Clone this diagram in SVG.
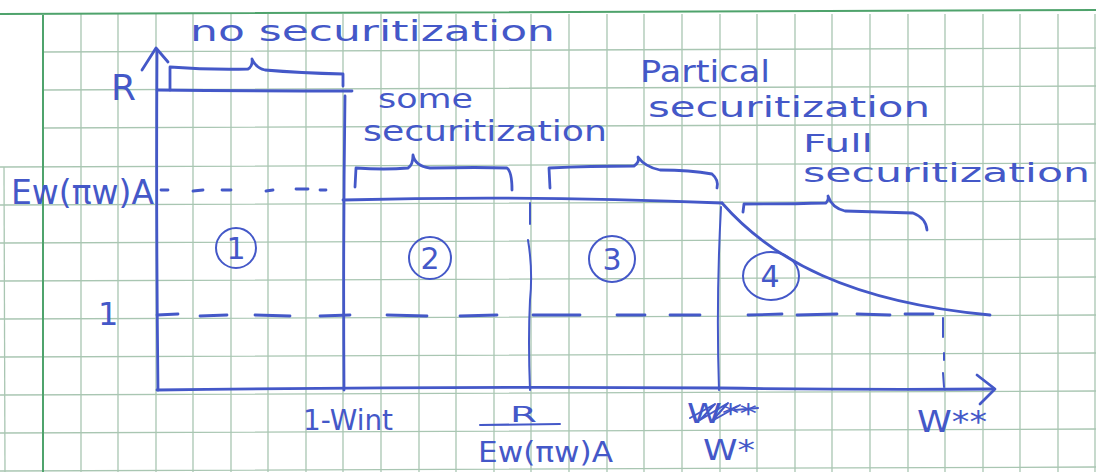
<svg xmlns="http://www.w3.org/2000/svg" width="1096" height="472" viewBox="0 0 1096 472">
  <style>
    .grid { stroke: #a9c6b2; stroke-width: 1.3; fill: none; }
    .margin { stroke: #4fa36c; stroke-width: 2; fill: none; }
    .ink { stroke: #4458c8; stroke-width: 2.8; fill: none; stroke-linecap: round; stroke-linejoin: round; }
    .thin { stroke-width: 2; }
    .txt { fill: #4458c8; font-family: "DejaVu Sans", "Liberation Sans", sans-serif; }
  </style>

  <rect width="1096" height="472" fill="#ffffff"/>

  <!-- squared paper -->
  <g id="paper-grid">
    <g class="grid">
      <path d="M4,167 L5,472"/>
      <path d="M81,14 V472 M118,14 V472 M156,14 V472 M193,14 V472 M231,14 V472 M268,14 V472 M306,14 V472 M343,14 V472 M381,14 V472 M419,14 V472 M456,14 V472 M494,14 V472 M531,14 V472 M569,14 V472 M607,14 V472 M644,14 V472 M682,14 V472 M720,14 V472 M757,14 V472 M795,14 V472 M832,14 V472 M870,14 V472 M908,14 V472 M945,14 V472 M983,14 V472 M1020,14 V472 M1058,14 V472 M1095,14 V472"/>
      <path d="M43,52 L1096,48 M43,90 L1096,86 M43,128 L1096,124 M0,167 L1096,163 M0,205 L1096,201 M0,243 L1096,239 M0,281 L1096,277 M0,319 L1096,315 M0,357 L1096,353 M0,395 L1096,391 M0,433 L1096,429 M0,471 L1096,467"/>
    </g>
    <path class="margin" d="M0,14 L1096,10 M43,14 V472"/>
  </g>

  <!-- axes -->
  <g id="axes" class="ink">
    <path d="M157,50 Q156,220 158,390"/>
    <path d="M142,70 L156,48 L168,62"/>
    <path d="M157,390 Q450,386 720,388 Q860,390 994,389"/>
    <path d="M977,375 L995,389 L980,404"/>
    <path d="M157,315 L178,314"/>
  </g>

  <!-- return schedule and guide lines -->
  <g id="connectors" class="ink">
    <path d="M157,90 Q250,91 352,91"/>
    <path d="M345,96 Q343,240 344,390"/>
    <path d="M343,200 Q530,195 722,203"/>
    <path d="M722,203 C772,260 850,302 990,315"/>
    <path d="M161,190 L168,190 M193,191 L203,190 M222,190 L231,190 M266,191 L273,190 M296,189 L308,189 M320,190 L326,190"/>
    <path d="M200,316 L227,315 M255,315 L290,316 M320,316 L350,315 M387,315 L427,316 M460,316 L497,315 M533,315 L580,315 M617,315 L645,315 M670,315 L700,315 M748,315 L782,314 M797,315 L837,314 M857,314 L890,315 M905,314 L933,314"/>
    <path class="thin" d="M530,203 L530,224 M528,240 Q533,270 530,300 Q528,340 530,390"/>
    <path class="thin" d="M721,207 Q716,300 719,390"/>
    <path class="thin" d="M943,318 L943,337 M944,353 L944,360 M943,373 L944,387"/>
  </g>

  <!-- range braces -->
  <g id="braces" class="ink">
    <path d="M170,90 L170,67 Q210,70 248,69 Q253,66 252,59 Q256,68 265,70 Q300,73 343,74 L343,86"/>
    <path d="M355,187 L356,168 Q385,170 408,168 Q413,165 413,155 Q415,166 430,168 Q480,167 507,168 Q512,172 512,190"/>
    <path d="M550,188 L549,168 Q590,166 634,166 Q640,162 638,157 Q645,167 660,170 Q690,170 712,174 Q719,180 717,188"/>
    <path d="M743,212 L744,204 Q790,204 826,203 Q829,200 828,196 Q832,208 845,211 Q880,212 913,213 Q926,218 927,230"/>
  </g>

  <!-- numbered regions -->
  <g id="region-1">
    <circle class="ink thin" cx="236" cy="248" r="20"/>
    <text class="txt" x="236" y="259" font-size="30" text-anchor="middle">1</text>
  </g>
  <g id="region-2">
    <circle class="ink thin" cx="430" cy="258" r="21"/>
    <text class="txt" x="430" y="269" font-size="30" text-anchor="middle">2</text>
  </g>
  <g id="region-3">
    <circle class="ink thin" cx="612" cy="259" r="23"/>
    <text class="txt" x="612" y="270" font-size="30" text-anchor="middle">3</text>
  </g>
  <g id="region-4">
    <ellipse class="ink thin" cx="771" cy="276" rx="28" ry="24"/>
    <text class="txt" x="770" y="287" font-size="30" text-anchor="middle">4</text>
  </g>

  <!-- labels -->
  <g id="labels">
    <text class="txt" x="190" y="41" font-size="28" textLength="365" lengthAdjust="spacingAndGlyphs">no securitization</text>
    <text class="txt" x="111" y="100" font-size="36" textLength="25" lengthAdjust="spacingAndGlyphs">R</text>
    <text class="txt" x="378" y="108" font-size="26" textLength="95" lengthAdjust="spacingAndGlyphs">some</text>
    <text class="txt" x="363" y="141" font-size="28" textLength="244" lengthAdjust="spacingAndGlyphs">securitization</text>
    <text class="txt" x="640" y="82" font-size="30" textLength="130" lengthAdjust="spacingAndGlyphs">Partical</text>
    <text class="txt" x="648" y="117" font-size="28" textLength="282" lengthAdjust="spacingAndGlyphs">securitization</text>
    <text class="txt" x="803" y="152" font-size="24" textLength="70" lengthAdjust="spacingAndGlyphs">Full</text>
    <text class="txt" x="803" y="182" font-size="27" textLength="287" lengthAdjust="spacingAndGlyphs">securitization</text>
    <text class="txt" x="11" y="204" font-size="34" textLength="143" lengthAdjust="spacingAndGlyphs">Ew(πw)A</text>
    <text class="txt" x="98" y="325" font-size="32">1</text>
    <text class="txt" x="303" y="430" font-size="28" textLength="90" lengthAdjust="spacingAndGlyphs">1-Wint</text>
    <text class="txt" x="510" y="422" font-size="22" textLength="27" lengthAdjust="spacingAndGlyphs">R</text>
    <path class="ink thin" d="M480,425 L560,424"/>
    <text class="txt" x="478" y="462" font-size="28" textLength="135" lengthAdjust="spacingAndGlyphs">Ew(πw)A</text>
    <text class="txt" x="687" y="423" font-size="26" textLength="70" lengthAdjust="spacingAndGlyphs">W**</text>
    <path class="ink thin" d="M690,418 L715,404 L700,420 L728,403 L712,421 L740,405 M735,410 L758,408"/>
    <text class="txt" x="703" y="460" font-size="28" textLength="52" lengthAdjust="spacingAndGlyphs">W*</text>
    <text class="txt" x="917" y="432" font-size="30" textLength="70" lengthAdjust="spacingAndGlyphs">W**</text>
  </g>
</svg>
